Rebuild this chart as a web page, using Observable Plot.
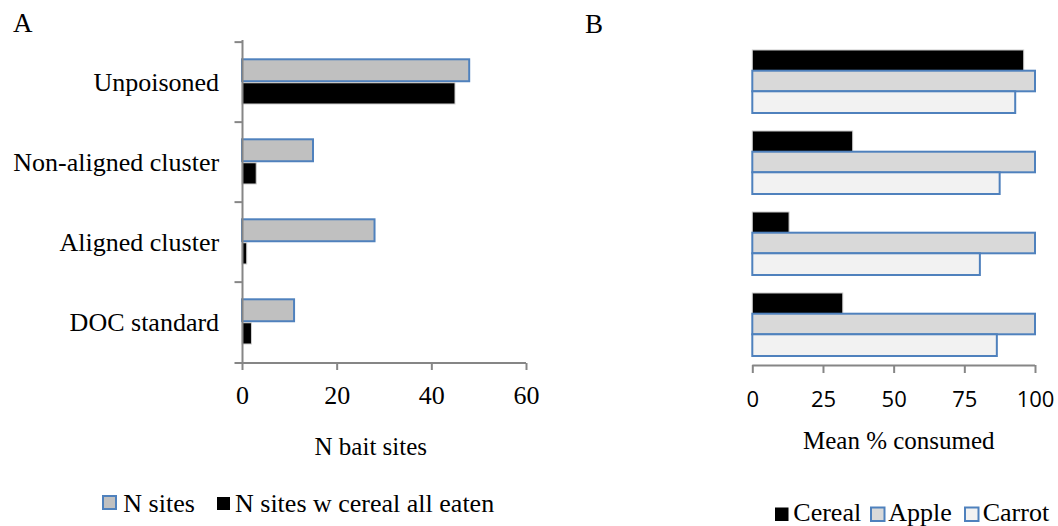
<!DOCTYPE html>
<html>
<head>
<meta charset="utf-8">
<script src="https://cdn.jsdelivr.net/npm/d3@7"></script>
<script src="https://cdn.jsdelivr.net/npm/@observablehq/plot@0.6"></script>
<style>
  html, body { margin: 0; padding: 0; background: #fff; }
  #root { position: relative; width: 1058px; height: 526px; overflow: hidden; background: #fff; }
  #root svg text { font-family: "Liberation Serif", "DejaVu Serif", serif; }
  #root svg.sansB text { font-family: "Open Sans", "Liberation Sans", sans-serif; }
</style>
</head>
<body>
<div id="root"></div>
<script>
// ---- data ----
const treatments = ["Unpoisoned", "Non-aligned cluster", "Aligned cluster", "DOC standard"];
const nSites = [48, 15, 28, 11];
const nSitesCerealEaten = [45, 3, 1, 2];
const xTicksA = [0, 20, 40, 60];

const cereal = [96, 35.5, 13, 32];
const apple = [100, 100, 100, 100];
const carrot = [93, 87.5, 80.5, 86.5];
const xTicksB = [0, 25, 50, 75, 100];

const legendA = ["N sites", "N sites w cereal all eaten"];
const legendB = ["Cereal", "Apple", "Carrot"];

// ---- styles ----
const blue = "#4f81bd";
const axisGray = "#868686";

const root = document.getElementById("root");
const rows = (vals) => vals.map((v, i) => ({treatment: treatments[i], value: v}));

// ---- Panel A ----
const hA = 420, topA = 40, botA = 363;
const bwA = (botA - topA) / treatments.length;
const chartA = Plot.plot({
  width: 560, height: hA,
  marginLeft: 242, marginRight: 34, marginTop: topA, marginBottom: hA - botA,
  style: {position: "absolute", left: "0px", top: "0px", fontSize: "26px", background: "transparent", overflow: "visible"},
  x: {domain: [0, 60], axis: null},
  y: {domain: treatments, padding: 0, axis: null},
  marks: [
    Plot.barX(rows(nSites), {y: "treatment", x: "value", fill: "#c0c0c0", stroke: blue, strokeWidth: 2, insetTop: 17.3, insetBottom: bwA - 22.7 - 17.3}),
    Plot.barX(rows(nSitesCerealEaten), {y: "treatment", x: "value", fill: "#000", stroke: "#d0d0d0", strokeWidth: 1, insetTop: bwA / 2 + 0.4, insetBottom: 18}),
    Plot.ruleX([0], {stroke: axisGray, strokeWidth: 2}),
    Plot.ruleY(treatments, {y: d => d, x1: 0, x2: 0, dy: -bwA / 2, insetLeft: -7.5, stroke: axisGray, strokeWidth: 2}),
    Plot.ruleY([treatments[treatments.length - 1]], {y: d => d, x1: 0, x2: xTicksA[xTicksA.length - 1], dy: bwA / 2, insetLeft: -7.5, stroke: axisGray, strokeWidth: 2}),
    Plot.axisX({ticks: xTicksA, tickSize: 7, tickPadding: 15, stroke: axisGray, strokeWidth: 2, fontSize: 26, label: null}),
    Plot.axisY({tickSize: 0, tickPadding: 23.4, fontSize: 26, label: null})
  ]
});
root.appendChild(chartA);

// ---- Panel B ----
const hB = 420, topB = 41, botB = 365;
const bwB = (botB - topB) / treatments.length;
const chartB = Plot.plot({
  width: 498, height: hB,
  marginLeft: 192.3, marginRight: 23, marginTop: topB, marginBottom: hB - botB,
  style: {position: "absolute", left: "560px", top: "0px", fontSize: "22px", background: "transparent", overflow: "visible"},
  x: {domain: [0, 100], axis: null},
  y: {domain: treatments, padding: 0, axis: null},
  marks: [
    Plot.barX(rows(cereal), {y: "treatment", x: "value", fill: "#000", stroke: "#c8c8c8", strokeWidth: 1, insetTop: 9, insetBottom: bwB - 29.7}),
    Plot.barX(rows(apple), {y: "treatment", x: "value", fill: "#d9d9d9", stroke: blue, strokeWidth: 2, insetTop: 29.7, insetBottom: bwB - 50.3}),
    Plot.barX(rows(carrot), {y: "treatment", x: "value", fill: "#f2f2f2", stroke: blue, strokeWidth: 2, insetTop: 50.3, insetBottom: 9}),
    Plot.ruleY([treatments[treatments.length - 1]], {y: d => d, x1: 0, x2: xTicksB[xTicksB.length - 1], dy: bwB / 2, stroke: axisGray, strokeWidth: 2}),
    Plot.axisX({ticks: xTicksB, tickSize: 8, tickPadding: 18, stroke: axisGray, strokeWidth: 2, fontSize: 22, label: null})
  ]
});
chartB.classList.add("sansB");
root.appendChild(chartB);

// ---- overlay: panel letters, axis titles, legends ----
const svg = d3.select(root).append("svg")
  .attr("width", 1058).attr("height", 526)
  .style("position", "absolute").style("left", "0px").style("top", "0px")
  .style("pointer-events", "none");

svg.append("text").attr("x", 13).attr("y", 32.3).attr("font-size", 27).text("A");
svg.append("text").attr("x", 585).attr("y", 33.3).attr("font-size", 27).text("B");

svg.append("text").attr("x", 370.8).attr("y", 455).attr("font-size", 25).attr("text-anchor", "middle").text("N bait sites");
svg.append("text").attr("x", 898.8).attr("y", 449.3).attr("font-size", 25).attr("text-anchor", "middle").text("Mean % consumed");

// legend A
const legA = [
  {label: legendA[0], sx: 103, sy: 496, fill: "#c0c0c0", stroke: blue, tx: 123.3},
  {label: legendA[1], sx: 217, sy: 497, fill: "#000", stroke: "none", tx: 235}
];
legA.forEach(d => {
  svg.append("rect").attr("x", d.sx).attr("y", d.sy).attr("width", 13).attr("height", 13)
    .attr("fill", d.fill).attr("stroke", d.stroke).attr("stroke-width", 2);
  svg.append("text").attr("x", d.tx).attr("y", 511.7).attr("font-size", 26).text(d.label);
});

// legend B
const legB = [
  {label: legendB[0], sx: 775, fill: "#000", stroke: "none", tx: 793.3},
  {label: legendB[1], sx: 871, fill: "#d9d9d9", stroke: blue, tx: 888.3},
  {label: legendB[2], sx: 965, fill: "#f2f2f2", stroke: blue, tx: 982.7}
];
legB.forEach(d => {
  svg.append("rect").attr("x", d.sx).attr("y", 507.5).attr("width", 13.5).attr("height", 13.5)
    .attr("fill", d.fill).attr("stroke", d.stroke).attr("stroke-width", 2);
  svg.append("text").attr("x", d.tx).attr("y", 521.3).attr("font-size", 26).text(d.label);
});
</script>
</body>
</html>
